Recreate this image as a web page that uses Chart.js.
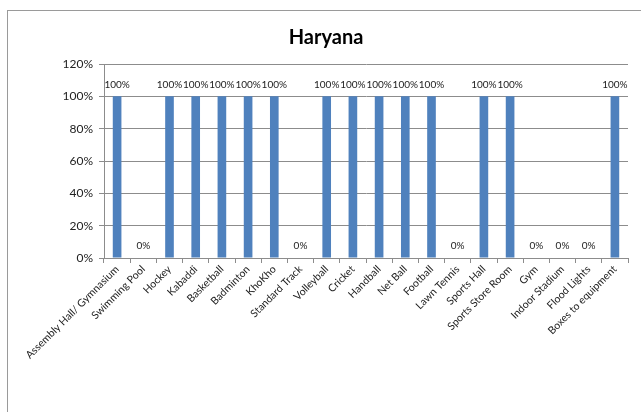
<!DOCTYPE html>
<html>
<head>
<meta charset="utf-8">
<script src="https://cdn.jsdelivr.net/npm/chart.js@4/dist/chart.umd.min.js"></script>
<style>
  html, body { margin: 0; padding: 0; background: #fff; overflow: hidden; }
  #wrap { position: relative; width: 641px; height: 412px; }
  #frame { position: absolute; left: 7px; top: 10px; width: 700px; height: 500px; border: 1px solid #9a9a9a; box-sizing: border-box; }
  canvas { position: absolute; left: 0; top: 0; }
</style>
</head>
<body>
<div id="wrap">
  <div id="frame"></div>
  <canvas id="chart" width="641" height="412"></canvas>
</div>
<script>
const categorias = ["Assembly Hall/ Gymnasium", "Swimming Pool", "Hockey", "Kabaddi", "Basketball",
    "Badminton", "KhoKho", "Standard Track", "Volleyball", "Cricket", "Handball", "Net Ball",
    "Football", "Lawn Tennis", "Sports Hall", "Sports Store Room", "Gym", "Indoor Stadium",
    "Flood Lights", "Boxes to equipment"];
const valores = [100, 0, 100, 100, 100, 100, 100, 0, 100, 100, 100, 100, 100, 0, 100, 100, 0, 0, 0, 100];
const ticksY = [0, 20, 40, 60, 80, 100, 120];

const FUENTE = "Lato, 'Liberation Sans', sans-serif";
const GRIS = "#8c8c8c";

// etiquetas encima de cada barra
const etiquetas = {
    id: "etiquetas",
    afterDatasetsDraw(chart) {
        const ctx = chart.ctx;
        const meta = chart.getDatasetMeta(0);
        ctx.save();
        ctx.font = "10px " + FUENTE;
        ctx.fillStyle = "#222";
        ctx.textAlign = "center";
        ctx.textBaseline = "bottom";
        meta.data.forEach(function (bar, i) {
            ctx.fillText(valores[i] + "%", bar.x, bar.y - 7);
        });
        ctx.restore();
    }
};

new Chart(document.getElementById("chart"), {
    type: "bar",
    data: {
        labels: categorias,
        datasets: [{
            data: valores,
            backgroundColor: "#4f81bd",
            barPercentage: 0.33,
            categoryPercentage: 1
        }]
    },
    options: {
        responsive: false,
        animation: false,
        layout: { padding: { left: 24, right: 13, top: 0, bottom: 0 } },
        plugins: {
            legend: { display: false },
            tooltip: { enabled: false },
            title: {
                display: true,
                text: "Haryana",
                color: "#000",
                font: { family: FUENTE, size: 20, weight: "bold" },
                padding: { top: 26, bottom: 14 }
            }
        },
        scales: {
            x: {
                offset: true,
                grid: { offset: true, drawOnChartArea: false, color: GRIS, tickLength: 5 },
                border: { color: GRIS },
                ticks: {
                    color: "#222",
                    font: { family: FUENTE, size: 10.5 },
                    minRotation: 45,
                    maxRotation: 45,
                    autoSkip: false,
                    padding: 0
                },
                afterFit(scale) { scale.height = 154; }
            },
            y: {
                min: 0,
                max: 120,
                afterBuildTicks(scale) { scale.ticks = ticksY.map(v => ({ value: v })); },
                grid: { color: GRIS, tickLength: 5 },
                border: { color: GRIS },
                ticks: {
                    color: "#222",
                    font: { family: FUENTE, size: 12 },
                    padding: 6,
                    callback: v => v + "%"
                },
                afterFit(scale) { scale.width = 80; }
            }
        }
    },
    plugins: [etiquetas]
});
</script>
</body>
</html>
